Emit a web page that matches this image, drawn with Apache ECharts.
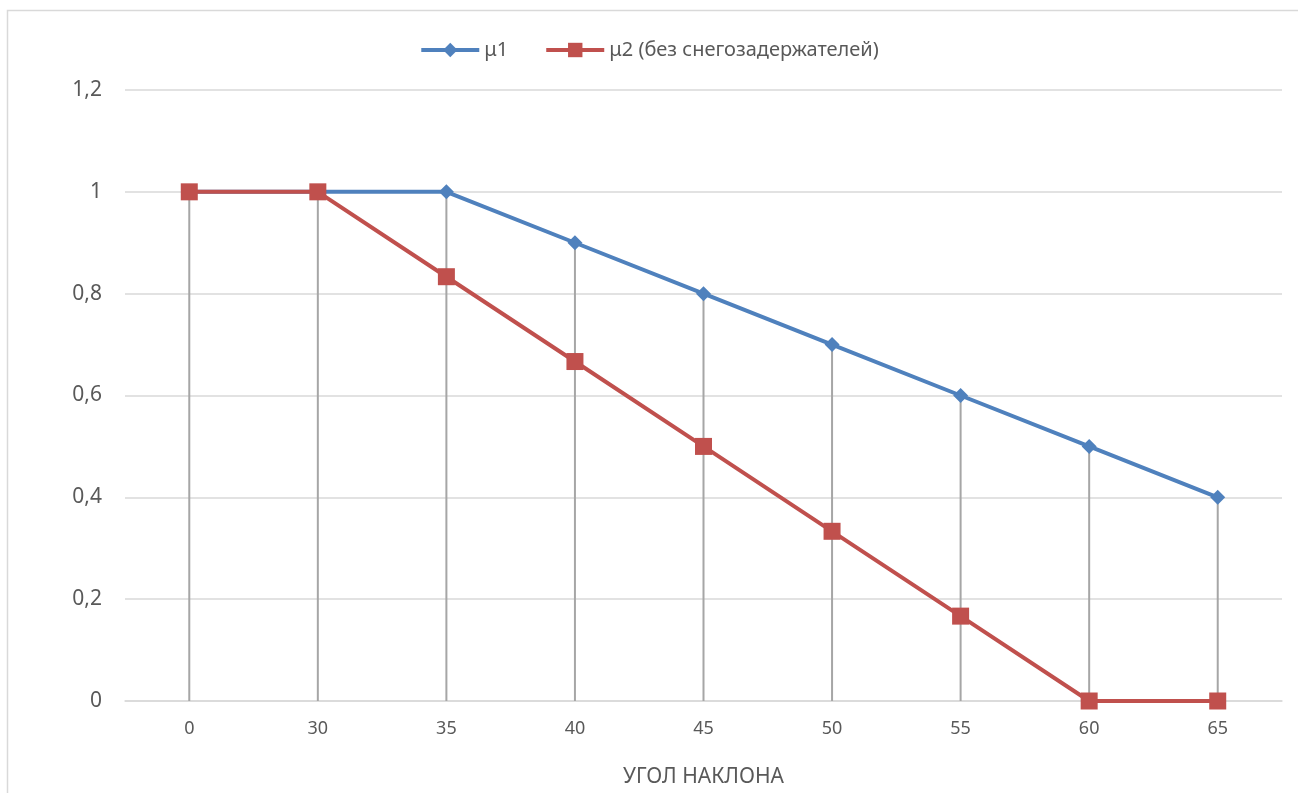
<!DOCTYPE html>
<html>
<head>
<meta charset="utf-8">
<script src="https://cdn.jsdelivr.net/npm/echarts@6/dist/echarts.min.js"></script>
<style>
html,body{margin:0;padding:0;background:#fff;overflow:hidden;}
#chart{width:1298px;height:793px;}
</style>
</head>
<body>
<div id="chart"></div>
<script>
const categories = ['0', '30', '35', '40', '45', '50', '55', '60', '65'];
const mu1 = [1, 1, 1, 0.9, 0.8, 0.7, 0.6, 0.5, 0.4];
const mu2 = [1, 1, 0.8333, 0.6667, 0.5, 0.3333, 0.1667, 0, 0];
const yTicks = { min: 0, max: 1.2, interval: 0.2 };
const dropHeights = mu1.map((v, i) => Math.max(v, mu2[i]));

const FONT = '"Noto Sans", "Open Sans", sans-serif';
const chart = echarts.init(document.getElementById('chart'));
chart.setOption({
  animation: false,
  backgroundColor: '#fff',
  textStyle: { fontFamily: FONT },
  graphic: [{
    type: 'polyline', z: -10,
    shape: { points: [[7.5, 900], [7.5, 10.5], [1500, 10.5]] },
    style: { fill: 'none', stroke: '#d9d9d9', lineWidth: 1.5 }
  }],
  legend: {
    top: 35, left: 'center', itemGap: 36, itemWidth: 58, itemHeight: 18,
    data: ['μ1', 'μ2 (без снегозадержателей)'],
    lineStyle: { width: 4 },
    textStyle: { fontSize: 20, color: '#595959', fontFamily: FONT }
  },
  grid: { left: 125, right: 16, top: 90, bottom: 90 },
  xAxis: {
    type: 'category', data: categories, boundaryGap: true,
    name: 'УГОЛ НАКЛОНА', nameLocation: 'middle', nameGap: 66,
    nameTextStyle: { fontSize: 21, color: '#595959', fontFamily: FONT },
    axisTick: { show: false },
    axisLine: { lineStyle: { color: '#d9d9d9', width: 1.5 } },
    axisLabel: { fontSize: 18, color: '#595959', margin: 19, fontFamily: FONT }
  },
  yAxis: {
    type: 'value', min: yTicks.min, max: yTicks.max, interval: yTicks.interval,
    axisLine: { show: false }, axisTick: { show: false },
    splitLine: { lineStyle: { color: '#d9d9d9', width: 1.5 } },
    axisLabel: {
      fontSize: 21, color: '#595959', margin: 23, fontFamily: FONT,
      formatter: v => String(Math.round(v * 10) / 10).replace('.', ',')
    }
  },
  series: [
    {
      name: 'drop', type: 'bar', data: dropHeights, barWidth: 2,
      itemStyle: { color: '#a6a6a6' }, silent: true, z: 1,
      legendHoverLink: false
    },
    {
      name: 'μ1', type: 'line', data: mu1, z: 3,
      symbol: 'diamond', symbolSize: 15,
      lineStyle: { color: '#4F81BD', width: 4 },
      itemStyle: { color: '#4F81BD' }
    },
    {
      name: 'μ2 (без снегозадержателей)', type: 'line', data: mu2, z: 4,
      symbol: 'rect', symbolSize: 17,
      lineStyle: { color: '#C0504D', width: 4 },
      itemStyle: { color: '#C0504D' }
    }
  ]
});
</script>
</body>
</html>
